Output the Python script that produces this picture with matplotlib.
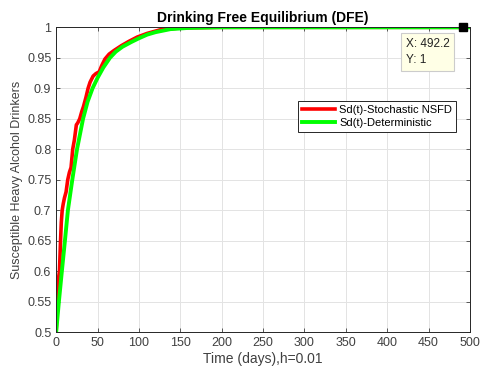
import matplotlib
matplotlib.use("Agg")
from matplotlib import pyplot as plt

plt.rcParams["font.family"] = ["Liberation Sans", "DejaVu Sans"]

# ---------------- deterministic solution Sd(t) ----------------
t_det = [0, 3.3, 6.9, 10.6, 14.2, 19.5, 25.2, 32.5, 38, 44, 50, 57, 65, 72, 80,
         91, 100, 110, 120, 138, 160, 200, 300, 400, 500]
sd_det = [0.5, 0.55, 0.6, 0.65, 0.7, 0.75, 0.8, 0.85, 0.878, 0.9, 0.917, 0.934,
          0.95, 0.96, 0.968, 0.976, 0.982, 0.988, 0.992, 0.997, 0.999, 1.0, 1.0,
          1.0, 1.0]

# ---------------- stochastic NSFD solution Sd(t) ----------------
t_sto = [0, 0.5, 1, 2, 3, 4, 5.3, 6.2, 7.3, 8.5, 10, 12, 14, 16, 18, 20, 22,
         24.4, 26, 28.5, 31, 33, 36, 38.6, 41, 44.7, 48, 52, 55, 59, 64, 70,
         79, 88, 98, 110, 126, 150, 200, 300, 400, 492.2]
sd_sto = [0.5, 0.52, 0.55, 0.575, 0.59, 0.6, 0.65, 0.68, 0.7, 0.71, 0.72, 0.73,
          0.75, 0.762, 0.77, 0.8, 0.815, 0.84, 0.843, 0.85, 0.862, 0.87, 0.885,
          0.9, 0.91, 0.92, 0.924, 0.927, 0.937, 0.948, 0.956, 0.962, 0.97, 0.977,
          0.984, 0.99, 0.996, 0.999, 1.0, 1.0, 1.0, 1.0]

tip_x = 492.2
tip_y = 1

fig = plt.figure(figsize=(4.8, 3.74), dpi=100)
ax = fig.add_axes([0.117, 0.112, 0.862, 0.815])

ax.plot(t_sto, sd_sto, color="#ff0000", lw=2.6, label="Sd(t)-Stochastic NSFD")
ax.plot(t_det, sd_det, color="#00ff00", lw=2.8, label="Sd(t)-Deterministic")

# data tip
ax.plot([tip_x], [tip_y], "s", color="black", ms=6, clip_on=False, zorder=5)
ax.text(0.845, 0.965, "X: 492.2\nY: 1", transform=ax.transAxes, fontsize=8.5,
        va="top", ha="left", linespacing=1.45, color="#222222",
        bbox=dict(boxstyle="square,pad=0.4", fc="#ffffe6", ec="#cccccc", lw=0.8))

ax.set_xlim(0, 500)
ax.set_ylim(0.5, 1)
ax.set_xticks(range(0, 501, 50))
ax.set_yticks([0.5, 0.55, 0.6, 0.65, 0.7, 0.75, 0.8, 0.85, 0.9, 0.95, 1])
ax.set_yticklabels(["0.5", "0.55", "0.6", "0.65", "0.7", "0.75", "0.8", "0.85",
                    "0.9", "0.95", "1"])
ax.tick_params(direction="in", labelsize=9, colors="#404040", length=3,
               top=True, right=True, width=0.6)
ax.grid(True, color="#e3e3e3", lw=0.7)
ax.set_axisbelow(True)
for s in ax.spines.values():
    s.set_color("#262626")
    s.set_linewidth(0.7)

ax.set_title("Drinking Free Equilibrium (DFE)", fontsize=10, fontweight="bold", pad=4)
ax.set_xlabel("Time (days),h=0.01", fontsize=10, color="#404040", labelpad=2)
ax.set_ylabel("Susceptible Heavy Alcohol Drinkers", fontsize=9, color="#404040", labelpad=3)

leg = ax.legend(loc="upper right", bbox_to_anchor=(0.98, 0.775), fontsize=8,
                fancybox=False, framealpha=1, edgecolor="#262626",
                handlelength=3, borderpad=0.35, labelspacing=0.25, handletextpad=0.4)
leg.get_frame().set_linewidth(0.7)

fig.savefig("out.png", dpi=100)
